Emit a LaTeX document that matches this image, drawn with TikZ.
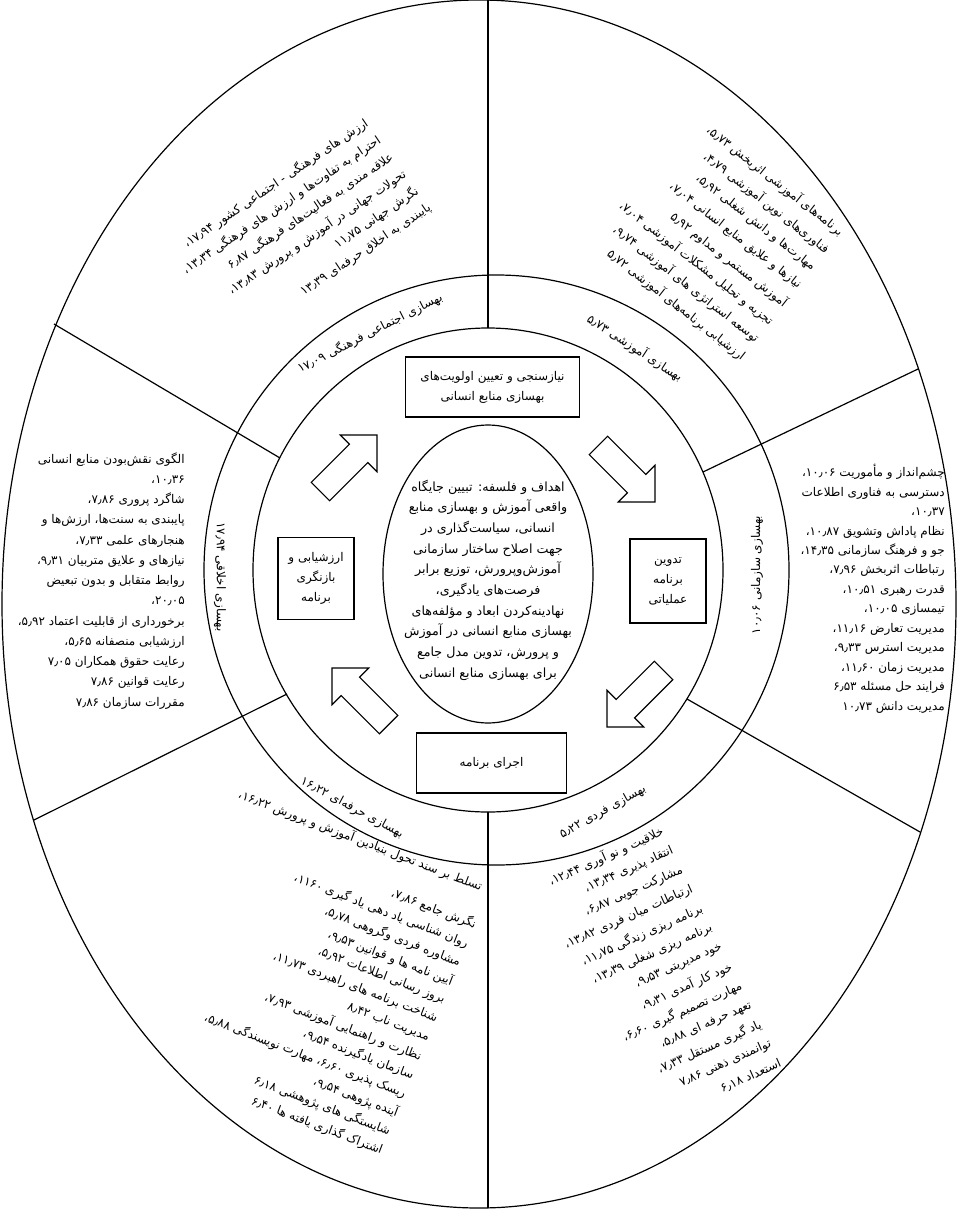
\documentclass[tikz,border=0pt]{standalone}
\usepackage{fontspec}
\newfontfamily\farsi[Script=Arabic]{DejaVu Sans}
\TeXXeTstate=1
\usepackage{tikz}
\usetikzlibrary{calc,positioning}
\newcommand\fa[1]{\beginR #1\endR}
\newcommand\virg{\kern0pt،}
\tikzset{
  ring/.style={line width=0.9pt},
  spoke/.style={line width=0.9pt},
  stage/.style={draw,line width=0.9pt,inner sep=2pt,align=center},
  block/.style={inner sep=0pt,align=right,anchor=north east},
  item/.style={inner sep=0pt,anchor=east},
  leading/.style={font=\farsi\fontsize{9pt}{#1pt}\selectfont},
  bigarrow/.style={line width=0.9pt,fill=white},
  every node/.style={font=\farsi\fontsize{9pt}{15pt}\selectfont}
}
\begin{document}
\begin{tikzpicture}[x=0.75pt,y=-0.75pt]
  \useasboundingbox (0,0) rectangle (958,1209);
  % rings
  \draw[ring] (479,604) ellipse [x radius=477, y radius=604];
  \draw[ring] (496.5,570) ellipse [x radius=292.5, y radius=295];
  \draw[ring] (488,570) ellipse [x radius=235, y radius=242];
  \draw[ring] (488,574) ellipse [x radius=105, y radius=149];
  % spokes
  \draw[spoke] (488,0) -- (488,328);
  \draw[spoke] (488,812) -- (488,1208);
  \draw[spoke] (54,324) -- (280,458);
  \draw[spoke] (918,369) -- (703,472);
  \draw[spoke] (920,832) -- (687,699);
  \draw[spoke] (34,820) -- (287,694);

  % stages of the cycle
  \node[stage,minimum width=131pt,minimum height=45pt] (needs) at (492.5,387)
    {\fa{نیازسنجی و تعیین اولویت‌های}\\\fa{بهسازی منابع انسانی}};
  \node[stage,minimum width=57pt,minimum height=63pt] (plan) at (668,581)
    {\fa{تدوین}\\\fa{برنامه}\\\fa{عملیاتی}};
  \node[stage,minimum width=113pt,minimum height=45pt] (run) at (491.5,763)
    {\fa{اجرای برنامه}};
  \node[stage,minimum width=57pt,minimum height=62pt] (review) at (316,578.5)
    {\fa{ارزشیابی و}\\\fa{بازنگری}\\\fa{برنامه}};
  \foreach \tx/\ty/\ang in {377/435/45,655/502/-45,607/727/-135,332/668/135}
    \draw[bigarrow,shift={(\tx,\ty)},rotate=\ang]
      (0,0) -- (-26,-26) -- (-26,-13) -- (-80,-13) -- (-80,13) -- (-26,13) -- (-26,26) -- cycle;

  % aims in the middle
  \node[align=center,font=\farsi\fontsize{9.5pt}{15.5pt}\selectfont] (aims) at (488,580)
    {\fa{اهداف و فلسفه: تبیین جایگاه}\\
     \fa{واقعی آموزش و بهسازی منابع}\\
     \fa{انسانی، سیاست‌گذاری در}\\
     \fa{جهت اصلاح ساختار سازمانی}\\
     \fa{آموزش‌وپرورش، توزیع برابر}\\
     \fa{فرصت‌های یادگیری،}\\
     \fa{نهادینه‌کردن ابعاد و مؤلفه‌های}\\
     \fa{بهسازی منابع انسانی در آموزش}\\
     \fa{و پرورش، تدوین مدل جامع}\\
     \fa{برای بهسازی منابع انسانی}};

  % ring labels
  \node[rotate=27] (lblsocial) at (370,333) {\fa{بهسازی اجتماعی فرهنگی ۱۷٫۰۹}};
  \node[rotate=-33] (lbledu) at (635,348) {\fa{بهسازی آموزشی ۵٫۷۳}};
  \node[rotate=90] (lblorg) at (757,575) {\fa{بهسازی سازمانی ۱۰٫۰۶}};
  \node[rotate=29] (lblself) at (603,812) {\fa{بهسازی فردی ۵٫۲۲}};
  \node[rotate=-28] (lblprof) at (352,808) {\fa{بهسازی حرفه‌ای ۱۶٫۲۲}};
  \node[rotate=-90] (lblethic) at (220,577) {\fa{بهسازی اخلاقی ۱۷٫۹۴}};

  % items of each sector, one line at a time
  \foreach \txt [count=\i from 0] in {
      {ارزش های فرهنگی - اجتماعی کشور ۱۷٫۹۴\virg},
      {احترام به تفاوت‌ها و ارزش های فرهنگی ۱۳٫۳۴\virg},
      {علاقه مندی به فعالیت‌های فرهنگی ۶٫۸۷},
      {تحولات جهانی در آموزش و پرورش ۱۳٫۸۳\virg},
      {نگرش جهانی ۱۱٫۷۵},
      {پایبندی به اخلاق حرفه‌ای ۱۳٫۳۹}}
    \node[item,rotate=34] (social-\i) at ($(367,122)+\i*(12.6,17)$) {\fa{\txt}};
  \foreach \txt [count=\i from 0] in {
      {برنامه‌های آموزشی اثربخش ۵٫۷۳\virg},
      {فناوری‌های نوین آموزشی ۴٫۷۹\virg},
      {مهارت‌ها و دانش شغلی ۵٫۹۲\virg},
      {نیازها و علایق منابع انسانی ۷٫۰۴\virg},
      {آموزش مستمر و مداوم ۵٫۹۲},
      {تجزیه و تحلیل مشکلات آموزشی ۷٫۰۴\virg},
      {توسعه استراتژی های آموزشی ۹٫۷۴\virg},
      {ارزشیابی برنامه‌های آموزشی ۵٫۷۲}}
    \node[item,rotate=-38] (edu-\i) at ($(842,233)+\i*(-14,17.8)$) {\fa{\txt}};
  \foreach \txt [count=\i from 0] in {
      {خلاقیت و نو آوری ۱۲٫۴۴\virg},
      {انتقاد پذیری ۱۳٫۳۴\virg},
      {مشارکت جویی ۶٫۸۷\virg},
      {ارتباطات میان فردی ۱۳٫۸۲\virg},
      {برنامه ریزی زندگی ۱۱٫۷۵\virg},
      {برنامه ریزی شغلی ۱۳٫۳۹\virg},
      {خود مدیریتی ۹٫۵۳\virg},
      {خود کار آمدی ۹٫۳۱\virg},
      {مهارت تصمیم گیری ۶٫۶۰\virg},
      {تعهد حرفه ای ۵٫۸۸\virg},
      {یاد گیری مستقل ۷٫۳۳\virg},
      {توانمندی ذهنی ۷٫۸۶},
      {استعداد ۶٫۱۸}}
    \node[item,rotate=24] (self-\i) at ($(663,831)+\i*(9.8,19.3)$) {\fa{\txt}};
  \node[item,rotate=-21] (prof-0) at (482,887)
    {\fa{تسلط بر سند تحول بنیادین آموزش و پرورش ۱۶٫۲۲\virg}};
  \foreach \txt [count=\i from 0] in {
      {نگرش جامع ۷٫۸۶\virg},
      {روان شناسی یاد دهی یاد گیری ۱۱۶۰\virg},
      {مشاوره فردی وگروهی ۵٫۷۸\virg},
      {آیین نامه ها و قوانین ۹٫۵۳\virg},
      {بروز رسانی اطلاعات ۵٫۹۲\virg},
      {شناخت برنامه های راهبردی ۱۱٫۷۳\virg},
      {مدیریت ناب ۸٫۴۲},
      {نظارت و راهنمایی آموزشی ۷٫۹۳\virg},
      {سازمان یادگیرنده ۹٫۵۴\virg},
      {ریسک پذیری ۶٫۶۰\virg{} مهارت نویسندگی ۵٫۸۸\virg},
      {آینده پژوهی ۹٫۵۴\virg},
      {شایستگی های پژوهشی ۶٫۱۸},
      {اشتراک گذاری یافته ها ۶٫۴۰}}
    \node[item,rotate=-21] (prof-line\i) at ($(476,925)+\i*(-7.8,18.8)$) {\fa{\txt}};
  \node[block,leading=14.6] (org) at (945,464)
    {\fa{چشم‌انداز و مأموریت ۱۰٫۰۶\virg}\\
     \fa{دسترسی به فناوری اطلاعات}\\
     \fa{۱۰٫۳۷\virg}\\
     \fa{نظام پاداش وتشویق ۱۰٫۸۷\virg}\\
     \fa{جو و فرهنگ سازمانی ۱۴٫۳۵\virg}\\
     \fa{رتباطات اثربخش ۷٫۹۶\virg}\\
     \fa{قدرت رهبری ۱۰٫۵۱\virg}\\
     \fa{تیمسازی ۱۰٫۰۵\virg}\\
     \fa{مدیریت تعارض ۱۱٫۱۶\virg}\\
     \fa{مدیریت استرس ۹٫۳۳\virg}\\
     \fa{مدیریت زمان ۱۱٫۶۰\virg}\\
     \fa{فرایند حل مسئله ۶٫۵۳}\\
     \fa{مدیریت دانش ۱۰٫۷۳}};
  \node[block,leading=15.2] (ethic) at (185,452)
    {\fa{الگوی نقش‌بودن منابع انسانی}\\
     \fa{۱۰٫۳۶\virg}\\
     \fa{شاگرد پروری ۷٫۸۶\virg}\\
     \fa{پایبندی به سنت‌ها، ارزش‌ها و}\\
     \fa{هنجارهای علمی ۷٫۳۳\virg}\\
     \fa{نیازهای و علایق متربیان ۹٫۳۱\virg}\\
     \fa{روابط متقابل و بدون تبعیض}\\
     \fa{۲۰٫۰۵\virg}\\
     \fa{برخورداری از قابلیت اعتماد ۵٫۹۲\virg}\\
     \fa{ارزشیابی منصفانه ۵٫۶۵\virg}\\
     \fa{رعایت حقوق همکاران ۷٫۰۵}\\
     \fa{رعایت قوانین ۷٫۸۶}\\
     \fa{مقررات سازمان ۷٫۸۶}};
\end{tikzpicture}
\end{document}
